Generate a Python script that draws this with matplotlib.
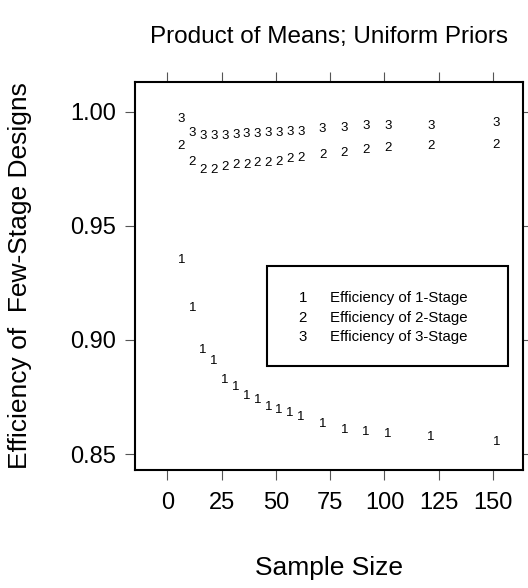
import matplotlib
matplotlib.use("Agg")
import matplotlib.pyplot as plt
from matplotlib.patches import Rectangle

plt.rcParams["font.family"] = ["Liberation Sans", "DejaVu Sans"]

# sample sizes
sample_size = [6.5, 11.5, 16.5, 21.5, 26.5, 31.5, 36.5, 41.5, 46.5, 51.5,
               56.5, 61.5, 71.5, 81.5, 91.5, 101.5, 121.5, 151.5]

eff_1stage = [0.9358, 0.9146, 0.8963, 0.8912, 0.8832, 0.8802, 0.8759, 0.8744,
              0.8712, 0.8700, 0.8685, 0.8667, 0.8637, 0.8613, 0.8602, 0.8593,
              0.8579, 0.8561]
eff_2stage = [0.9854, 0.9785, 0.9752, 0.9752, 0.9766, 0.9774, 0.9774, 0.9781,
              0.9781, 0.9785, 0.9800, 0.9803, 0.9815, 0.9825, 0.9840, 0.9847,
              0.9854, 0.9861]
eff_3stage = [0.9975, 0.9915, 0.9898, 0.9898, 0.9902, 0.9905, 0.9908, 0.9910,
              0.9912, 0.9914, 0.9916, 0.9918, 0.9932, 0.9934, 0.9943, 0.9943,
              0.9945, 0.9955]

series = [("1", eff_1stage, "Efficiency of 1-Stage"),
          ("2", eff_2stage, "Efficiency of 2-Stage"),
          ("3", eff_3stage, "Efficiency of 3-Stage")]

x_ticks = [0, 25, 50, 75, 100, 125, 150]
y_ticks = [0.85, 0.90, 0.95, 1.00]

fig = plt.figure(figsize=(5.28, 5.88), dpi=100)
ax = fig.add_axes([0.2566, 0.2007, 0.7339, 0.6599])

for sym, vals, _ in series:
    for x, y in zip(sample_size, vals):
        ax.text(x, y, sym, ha="center", va="center_baseline", fontsize=9.5)

ax.set_xlim(-14.65, 163.8)
ax.set_ylim(0.8430, 1.0130)

ax.set_xticks(x_ticks)
ax.set_xticklabels([str(v) for v in x_ticks])
ax.set_yticks(y_ticks)
ax.set_yticklabels([f"{v:.2f}" for v in y_ticks])
ax.tick_params(axis="both", direction="out", length=7.2, width=0.8,
               color="#555555", labelsize=17, top=True, right=True,
               labeltop=False, labelright=False)
ax.tick_params(axis="x", pad=8.5)
ax.tick_params(axis="y", pad=6.5)
for sp in ax.spines.values():
    sp.set_linewidth(1.5)

# legend box
ax.add_patch(Rectangle((0.340, 0.268), 0.622, 0.2585, transform=ax.transAxes,
                       fill=False, lw=1.5, ec="black"))
for i, (sym, _, lab) in enumerate(series):
    yy = 0.4466 - i * 0.0503
    ax.text(0.432, yy, sym, transform=ax.transAxes, ha="center",
            va="center_baseline", fontsize=10.8)
    ax.text(0.502, yy, lab, transform=ax.transAxes, ha="left",
            va="center_baseline", fontsize=10.8)

fig.text(329 / 528, 1 - 37 / 588, "Product of Means; Uniform Priors",
         ha="center", va="center", fontsize=17.5)
fig.text(329 / 528, 1 - 568 / 588, "Sample Size",
         ha="center", va="center", fontsize=19)
fig.text(20 / 528, 1 - 276 / 588, "Efficiency of  Few-Stage Designs",
         ha="center", va="center", rotation=90, fontsize=19)

fig.savefig("out.png", dpi=100)
